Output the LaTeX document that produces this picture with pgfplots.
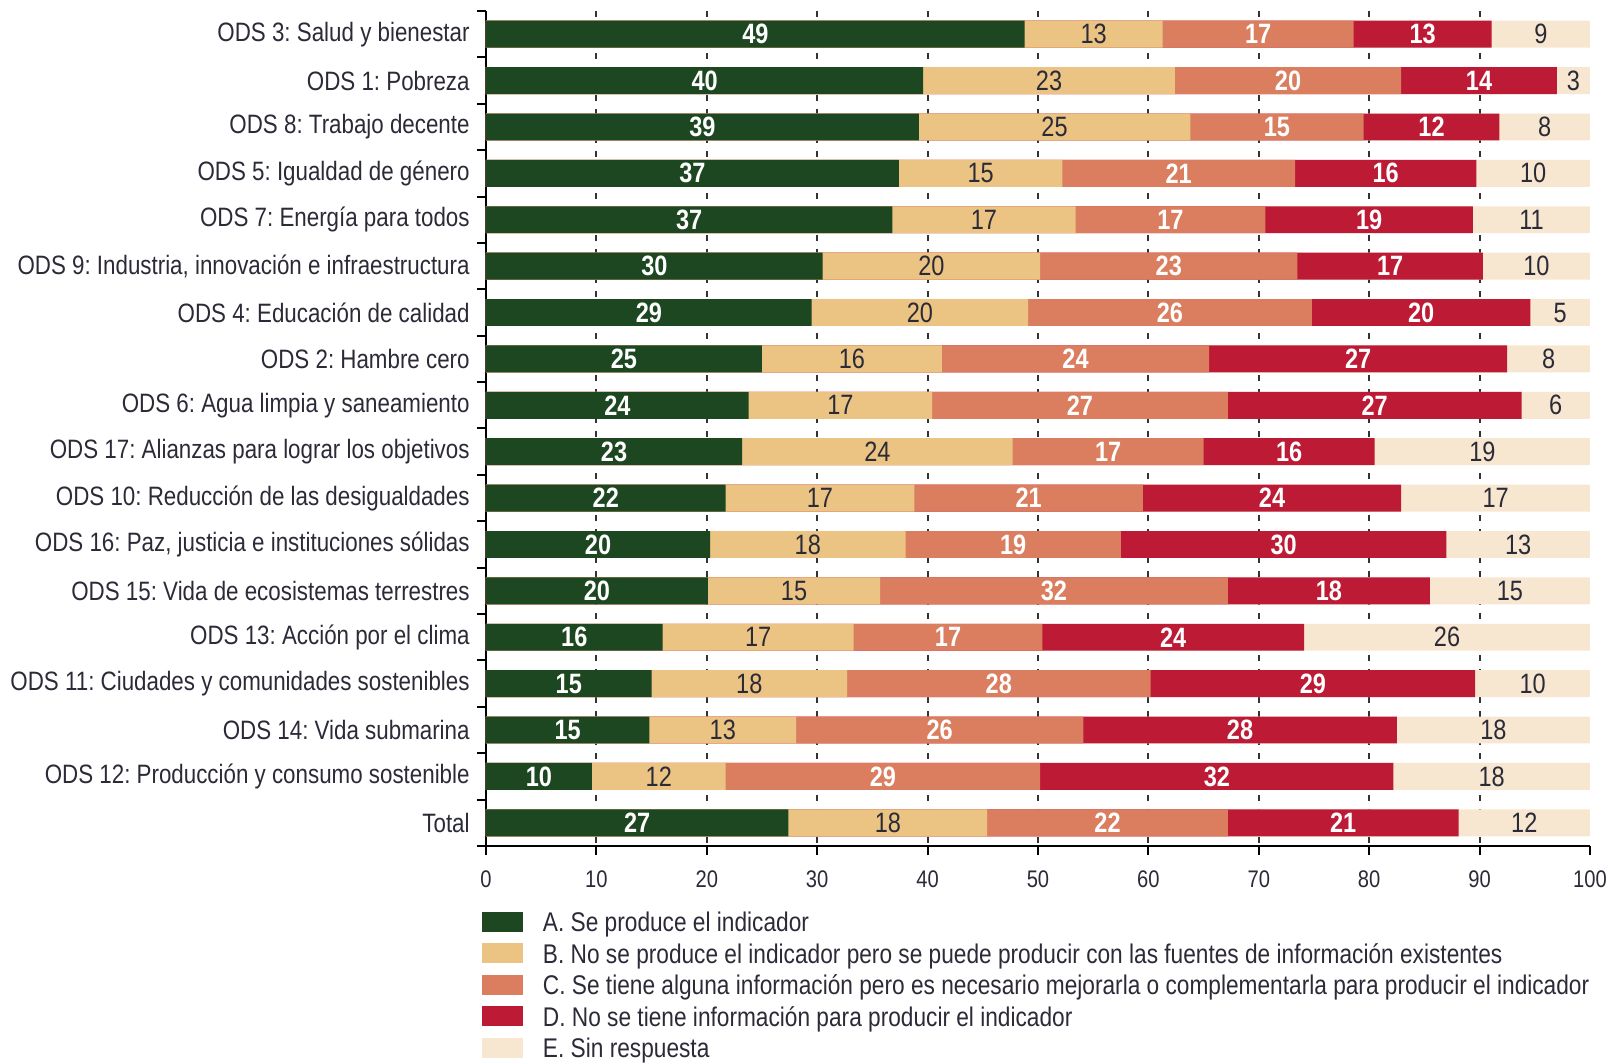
\documentclass[border=0pt]{standalone}
\usepackage{fontspec}
\setmainfont[FakeStretch=0.84]{Liberation Sans}
\usepackage{pgfplots}
\pgfplotsset{compat=1.18}
\usepackage{pgfplotstable}
\definecolor{cA}{HTML}{1C4720}
\definecolor{cB}{HTML}{EBC383}
\definecolor{cC}{HTML}{DA7E5F}
\definecolor{cD}{HTML}{BC1A35}
\definecolor{cE}{HTML}{F7E6D0}
\definecolor{txt}{HTML}{2B2B38}
\frenchspacing
\pgfplotsset{
  mybar/.style={xbar, bar width=0.58, bar shift=0pt, draw=none, fill=#1,
    legend image code/.code={\fill[#1] (0pt,-3.67pt) rectangle (20.5pt,6.33pt);}},
  mylab/.style={draw=none, mark=none, forget plot, nodes near coords,
    point meta=explicit symbolic,
    nodes near coords style={anchor=center, inner sep=0pt, #1}},
}
\pgfplotstableread{
y c1 c2 c3 c4 la lb lc ld le
0 48.8 61.3 78.6 91.1 49 13 17 13 9
1 39.6 62.4 82.9 97.0 40 23 20 14 3
2 39.2 63.8 79.5 91.8 39 25 15 12 8
3 37.4 52.2 73.3 89.7 37 15 21 16 10
4 36.8 53.4 70.6 89.4 37 17 17 19 11
5 30.5 50.2 73.5 90.3 30 20 23 17 10
6 29.5 49.1 74.8 94.6 29 20 26 20 5
7 25.0 41.3 65.5 92.5 25 16 24 27 8
8 23.8 40.4 67.2 93.8 24 17 27 27 6
9 23.2 47.7 65.0 80.5 23 24 17 16 19
10 21.7 38.8 59.5 82.9 22 17 21 24 17
11 20.3 38.0 57.5 87.0 20 18 19 30 13
12 20.1 35.7 67.2 85.5 20 15 32 18 15
13 16.0 33.3 50.4 74.1 16 17 17 24 26
14 15.0 32.7 60.2 89.6 15 18 28 29 10
15 14.8 28.1 54.1 82.5 15 13 26 28 18
16 9.6 21.7 50.2 82.2 10 12 29 32 18
17 27.4 45.4 67.2 88.1 27 18 22 21 12
}\data
\begin{document}
\begin{tikzpicture}
\path[use as bounding box] (-243pt,-108.5pt) rectangle (563.5pt,423pt);
\begin{axis}[
  at={(0,0)}, anchor=south west,
  scale only axis, width=552pt, height=417.5pt,
  xmin=0, xmax=100, ymin=-0.5, ymax=17.5, y dir=reverse,
  axis x line*=bottom, axis y line*=left,
  axis line style={line width=1pt, black},
  tick align=outside,
  tick style={line width=1pt, black},
  major tick length=4.5pt,
  xtick={0,10,...,100},
  xticklabel style={font=\fontsize{12}{14}\selectfont, text=txt, yshift=-4.5pt, /pgf/number format/assume math mode=true},
  extra x ticks={10,20,...,90},
  extra x tick labels={},
  extra x tick style={grid=major, major tick length=0pt},
  major grid style={dash pattern=on 3pt off 4pt, line width=1pt, black!80},
  ytick={-0.5,0.5,...,17.5},
  yticklabels={},
  extra y ticks={0,1,...,17},
  extra y tick style={major tick length=0pt},
  extra y tick labels={
    ODS 3: Salud y bienestar,
    ODS 1: Pobreza,
    ODS 8: Trabajo decente,
    ODS 5: Igualdad de género,
    ODS 7: Energía para todos,
    {ODS 9: Industria, innovación e infraestructura},
    ODS 4: Educación de calidad,
    ODS 2: Hambre cero,
    ODS 6: Agua limpia y saneamiento,
    ODS 17: Alianzas para lograr los objetivos,
    ODS 10: Reducción de las desigualdades,
    {ODS 16: Paz, justicia e instituciones sólidas},
    ODS 15: Vida de ecosistemas terrestres,
    ODS 13: Acción por el clima,
    ODS 11: Ciudades y comunidades sostenibles,
    ODS 14: Vida submarina,
    ODS 12: Producción y consumo sostenible,
    Total},
  yticklabel style={font=\fontsize{13.3}{16}\selectfont, text=txt, inner sep=0pt, xshift=-8pt},
  reverse legend,
  legend cell align=left,
  legend style={draw=none, fill=none, inner sep=0pt, outer sep=0pt,
    at={(0,0)}, anchor=north west, xshift=-2pt, yshift=-32.8pt,
    font=\fontsize{13.5}{15}\selectfont, text=txt,
    nodes={inner sep=0pt, text height=10pt, text depth=3pt},
    row sep=2.75pt,
    /tikz/every odd column/.append style={column sep=10pt}},
]
\addplot[mybar=cE] table[x expr=100, y=y] {\data};
\addlegendentry{E. Sin respuesta}
\addplot[mybar=cD] table[x=c4, y=y] {\data};
\addlegendentry{D. No se tiene información para producir el indicador}
\addplot[mybar=cC] table[x=c3, y=y] {\data};
\addlegendentry{C. Se tiene alguna información pero es necesario mejorarla o complementarla para producir el indicador}
\addplot[mybar=cB] table[x=c2, y=y] {\data};
\addlegendentry{B. No se produce el indicador pero se puede producir con las fuentes de información existentes}
\addplot[mybar=cA] table[x=c1, y=y] {\data};
\addlegendentry{A. Se produce el indicador}

\addplot[mylab={text=white, font=\bfseries\fontsize{14}{14}\selectfont}] table[x expr=\thisrow{c1}/2, y=y, meta=la] {\data};
\addplot[mylab={text=txt, font=\fontsize{14}{14}\selectfont}] table[x expr=(\thisrow{c1}+\thisrow{c2})/2, y=y, meta=lb] {\data};
\addplot[mylab={text=white, font=\bfseries\fontsize{14}{14}\selectfont}] table[x expr=(\thisrow{c2}+\thisrow{c3})/2, y=y, meta=lc] {\data};
\addplot[mylab={text=white, font=\bfseries\fontsize{14}{14}\selectfont}] table[x expr=(\thisrow{c3}+\thisrow{c4})/2, y=y, meta=ld] {\data};
\addplot[mylab={text=txt, font=\fontsize{14}{14}\selectfont}] table[x expr=(\thisrow{c4}+100)/2, y=y, meta=le] {\data};
\end{axis}
\end{tikzpicture}
\end{document}
